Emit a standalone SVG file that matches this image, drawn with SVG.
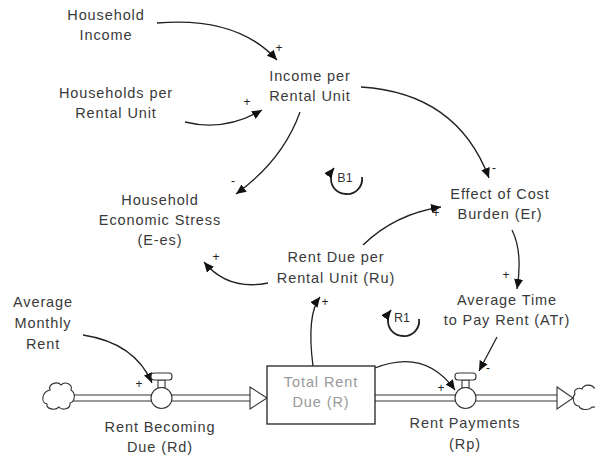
<svg xmlns="http://www.w3.org/2000/svg" width="595" height="459" viewBox="0 0 595 459">
<defs>
<style>
.t{font-family:"Liberation Sans",Arial,sans-serif;font-size:14.5px;letter-spacing:0.9px;fill:#3a3a3a;text-anchor:middle}
.st{fill:#999}
.p{font-family:"Liberation Sans",Arial,sans-serif;font-size:12px;fill:#222;text-anchor:middle}
.lp{font-family:"Liberation Sans",Arial,sans-serif;font-size:12.5px;fill:#333;text-anchor:middle}
.c{fill:none;stroke:#222;stroke-width:1.3;marker-end:url(#ah)}
.loop{fill:none;stroke:#222;stroke-width:1.8;marker-end:url(#ah)}
.pipe{fill:none;stroke:#333;stroke-width:1}
.vl{fill:#fff;stroke:#333;stroke-width:1.1}
</style>
<marker id="ah" markerUnits="userSpaceOnUse" markerWidth="11" markerHeight="9" refX="10" refY="4.5" orient="auto">
<path d="M0,0 L10,4.5 L0,9 z" fill="#111"/>
</marker>
</defs>
<rect width="595" height="459" fill="#fff"/>

<g id="connectors">
<path class="c" d="M157,23 Q237,16 277,60"/>
<path class="c" d="M185,122 Q225,132 262,110"/>
<path class="c" d="M300,112 Q283,160 236,194"/>
<path class="c" d="M361,87 Q457,93 489,178"/>
<path class="c" d="M363,245 Q395,214 441,207"/>
<path class="c" d="M512,230 Q523,252 517,289"/>
<path class="c" d="M268,283 Q228,291 204,262"/>
<path class="c" d="M313,366 C309,335 310,310 320,297"/>
<path class="c" d="M375,368 Q425,348 455,390"/>
<path class="c" d="M497,337 L479,371"/>
<path class="c" d="M83,335 Q135,343 152,383"/>
<text class="p" x="279" y="52">+</text>
<text class="p" x="247" y="106">+</text>
<text class="p" x="233" y="185">-</text>
<text class="p" x="494" y="172">-</text>
<text class="p" x="436" y="217">+</text>
<text class="p" x="506" y="279">+</text>
<text class="p" x="216" y="261">+</text>
<text class="p" x="325" y="306">+</text>
<text class="p" x="441" y="392">+</text>
<text class="p" x="488" y="372">-</text>
<text class="p" x="139" y="388">+</text>
</g>

<g id="loop-B1">
<path class="loop" d="M362,177 A15,15 0 0 1 346,194 A15,15 0 0 1 331,179 A15,15 0 0 1 334,168"/>
<text class="lp" x="345" y="182">B1</text>
</g>
<g id="loop-R1">
<path class="loop" d="M419,319 A15,15 0 0 1 403,336 A15,15 0 0 1 388,321 A15,15 0 0 1 391,310"/>
<text class="lp" x="402" y="322">R1</text>
</g>

<g id="flow-pipes">
<rect x="70" y="395" width="180" height="6" fill="#fff" stroke="none"/>
<line class="pipe" x1="70" y1="395" x2="250" y2="395"/>
<line class="pipe" x1="70" y1="401" x2="250" y2="401"/>
<path class="vl" d="M250,387 L267,398 L250,409 z"/>
<line class="pipe" x1="375" y1="395" x2="557" y2="395"/>
<line class="pipe" x1="375" y1="401" x2="557" y2="401"/>
<path class="vl" d="M557,387 L573,398 L557,409 z"/>
</g>

<g id="cloud-source">
<path class="vl" d="M50,390 C48,383 58,381 61,385 C65,381 73,384 71,390 C76,393 75,402 70,403 C71,409 62,411 59,407 C55,411 46,409 47,404 C41,403 41,392 50,390 z"/>
</g>
<g id="cloud-sink">
<path class="vl" d="M582,389 C584,384 592,384 594,388 C599,387 601,392 600,396 C602,402 598,408 592,407 C589,411 580,410 579,406 C573,406 572,397 575,394 C573,390 578,387 582,389 z"/>
</g>

<g id="stock-total-rent-due">
<rect x="267" y="366" width="108" height="58" fill="#fff" stroke="#222" stroke-width="1.3"/>
<text class="t st" x="321" y="387">Total Rent</text>
<text class="t st" x="321" y="407">Due (R)</text>
</g>

<g id="valve-rent-becoming-due">
<rect x="158" y="380" width="7" height="8" class="vl"/>
<rect x="151" y="373" width="21" height="7" rx="3" class="vl"/>
<circle cx="161.5" cy="398" r="10.5" class="vl"/>
<text class="t" x="160" y="432">Rent Becoming</text>
<text class="t" x="160" y="452">Due (Rd)</text>
</g>

<g id="valve-rent-payments">
<rect x="462" y="380" width="7" height="8" class="vl"/>
<rect x="455" y="373" width="21" height="7" rx="3" class="vl"/>
<circle cx="465.5" cy="398" r="10.5" class="vl"/>
<text class="t" x="465" y="428">Rent Payments</text>
<text class="t" x="465" y="449">(Rp)</text>
</g>

<g id="household-income">
<text class="t" x="106" y="20">Household</text>
<text class="t" x="106" y="40">Income</text>
</g>
<g id="households-per-rental-unit">
<text class="t" x="116" y="98">Households per</text>
<text class="t" x="116" y="118">Rental Unit</text>
</g>
<g id="income-per-rental-unit">
<text class="t" x="310" y="81">Income per</text>
<text class="t" x="310" y="101">Rental Unit</text>
</g>
<g id="household-economic-stress">
<text class="t" x="160" y="205">Household</text>
<text class="t" x="160" y="225">Economic Stress</text>
<text class="t" x="160" y="245">(E-es)</text>
</g>
<g id="effect-of-cost-burden">
<text class="t" x="500" y="199">Effect of Cost</text>
<text class="t" x="500" y="219">Burden (Er)</text>
</g>
<g id="rent-due-per-rental-unit">
<text class="t" x="336" y="262">Rent Due per</text>
<text class="t" x="336" y="283">Rental Unit (Ru)</text>
</g>
<g id="average-time-to-pay-rent">
<text class="t" x="507" y="305">Average Time</text>
<text class="t" x="507" y="325">to Pay Rent (ATr)</text>
</g>
<g id="average-monthly-rent">
<text class="t" x="43" y="307">Average</text>
<text class="t" x="43" y="328">Monthly</text>
<text class="t" x="43" y="349">Rent</text>
</g>
</svg>
